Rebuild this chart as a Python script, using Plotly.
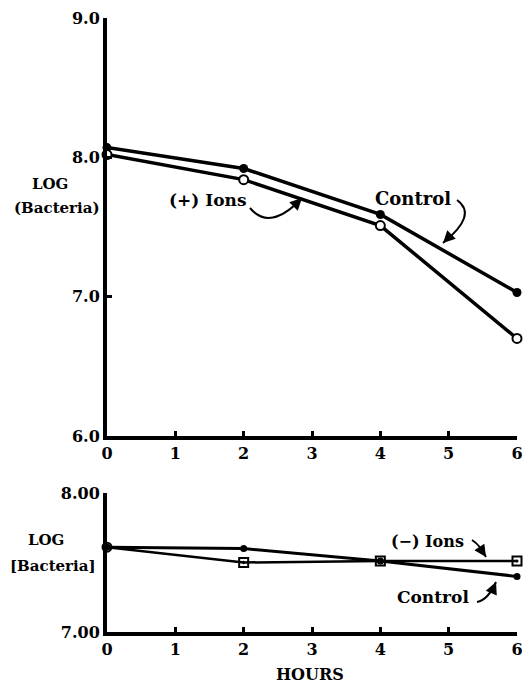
import plotly.graph_objects as go

# ---- data ----
hours = [0, 2, 4, 6]
top_control = [8.07, 7.92, 7.59, 7.03]
top_plus_ions = [8.02, 7.84, 7.51, 6.70]
bottom_control = [7.61, 7.60, 7.51, 7.40]
bottom_minus_ions = [7.61, 7.50, 7.51, 7.51]
x_ticks = [0, 1, 2, 3, 4, 5, 6]
x_tick_labels = ["0", "1", "2", "3", "4", "5", "6"]
top_y_ticks = [6, 7, 8, 9]
top_y_labels = ["6.0", "7.0", "8.0", "9.0"]
bot_y_ticks = [7, 8]
bot_y_labels = ["7.00", "8.00"]

W, H = 527, 688
FONT = "DejaVu Serif"


def px(x, y):
    return x / W, 1 - y / H


fig = go.Figure()

fig.add_trace(go.Scatter(x=hours, y=top_control, mode="lines+markers", xaxis="x", yaxis="y",
                         line=dict(color="black", width=3.5),
                         marker=dict(symbol="circle", size=9, color="black"),
                         cliponaxis=False, name="Control"))
fig.add_trace(go.Scatter(x=hours, y=top_plus_ions, mode="lines+markers", xaxis="x", yaxis="y",
                         line=dict(color="black", width=3.5),
                         marker=dict(symbol="circle", size=9, color="white",
                                     line=dict(width=2, color="black")),
                         cliponaxis=False, name="(+) Ions"))
fig.add_trace(go.Scatter(x=hours, y=bottom_control, mode="lines+markers", xaxis="x2", yaxis="y2",
                         line=dict(color="black", width=3),
                         marker=dict(symbol="circle", size=7, color="black"),
                         cliponaxis=False, name="Control"))
fig.add_trace(go.Scatter(x=hours, y=bottom_minus_ions, mode="lines+markers", xaxis="x2", yaxis="y2",
                         line=dict(color="black", width=2.5),
                         marker=dict(symbol=["circle-open", "square-open-dot", "square-open-dot", "square-open-dot"],
                                     size=9, color="black", line=dict(width=2, color="black")),
                         cliponaxis=False, name="(-) Ions"))

xd = [px(107, 0)[0], px(517, 0)[0]]
axis_common = dict(showline=True, linewidth=4, linecolor="black", showgrid=False, zeroline=False,
                   automargin=False,
                   ticks="inside", ticklen=5, tickwidth=3, tickcolor="black",
                   tickfont=dict(family=FONT, size=16, color="black", weight="bold"))


def ydom(top_px, bottom_px):
    return [px(0, bottom_px)[1], px(0, top_px)[1]]


fig.update_layout(
    width=W, height=H, margin=dict(l=0, r=0, t=0, b=0),
    paper_bgcolor="white", plot_bgcolor="white", showlegend=False,
    xaxis=dict(domain=xd, range=[0, 6], anchor="y", tickvals=x_ticks, ticktext=x_tick_labels, **axis_common),
    yaxis=dict(domain=ydom(18, 436), range=[6, 9], anchor="x",
               tickvals=top_y_ticks, ticktext=top_y_labels, **axis_common),
    xaxis2=dict(domain=xd, range=[0, 6], anchor="y2", tickvals=x_ticks, ticktext=x_tick_labels,
                **axis_common),
    yaxis2=dict(domain=ydom(493, 632), range=[7, 8], anchor="x2",
                tickvals=bot_y_ticks, ticktext=bot_y_labels, **axis_common),
)


def label(text, x, y, size=16):
    xp, yp = px(x, y)
    fig.add_annotation(x=xp, y=yp, xref="paper", yref="paper", text=text, showarrow=False,
                       xanchor="center", yanchor="middle",
                       font=dict(family=FONT, size=size, color="black", weight="bold"))


def curve(p0, c, p1, head_from):
    x0, y0 = px(*p0)
    cx, cy = px(*c)
    x1, y1 = px(*p1)
    fig.add_shape(type="path", xref="paper", yref="paper",
                  path=f"M {x0},{y0} Q {cx},{cy} {x1},{y1}",
                  line=dict(color="black", width=2))
    fig.add_annotation(x=x1, y=y1, xref="paper", yref="paper", text="", showarrow=True,
                       axref="pixel", ayref="pixel",
                       ax=head_from[0], ay=head_from[1], arrowhead=2, arrowsize=1.2,
                       arrowwidth=2, arrowcolor="black")


# y-axis titles
label("LOG", 50, 184, 15)
label("(Bacteria)", 57, 208, 15)
label("LOG", 46, 540, 15)
label("[Bacteria]", 53, 566, 15)
label("HOURS", 310, 674, 16)

# top annotations
label("(+) Ions", 207, 200, 17)
curve((250, 208), (270, 232), (302, 198), (-6, 6))
label("Control", 413, 198, 18)
curve((457, 200), (478, 215), (443, 243), (6, -6))

# bottom annotations
label("(−) Ions", 427, 541, 16)
curve((472, 540), (480, 545), (486, 557), (-4, -6))
label("Control", 433, 597, 17)
curve((477, 602), (488, 600), (496, 582), (-3, 7))

fig.write_html("out.html", default_width=f"{W}px", default_height=f"{H}px",
               config={"displayModeBar": False},
               post_script="document.body.style.margin='0';document.body.style.overflow='hidden';")
